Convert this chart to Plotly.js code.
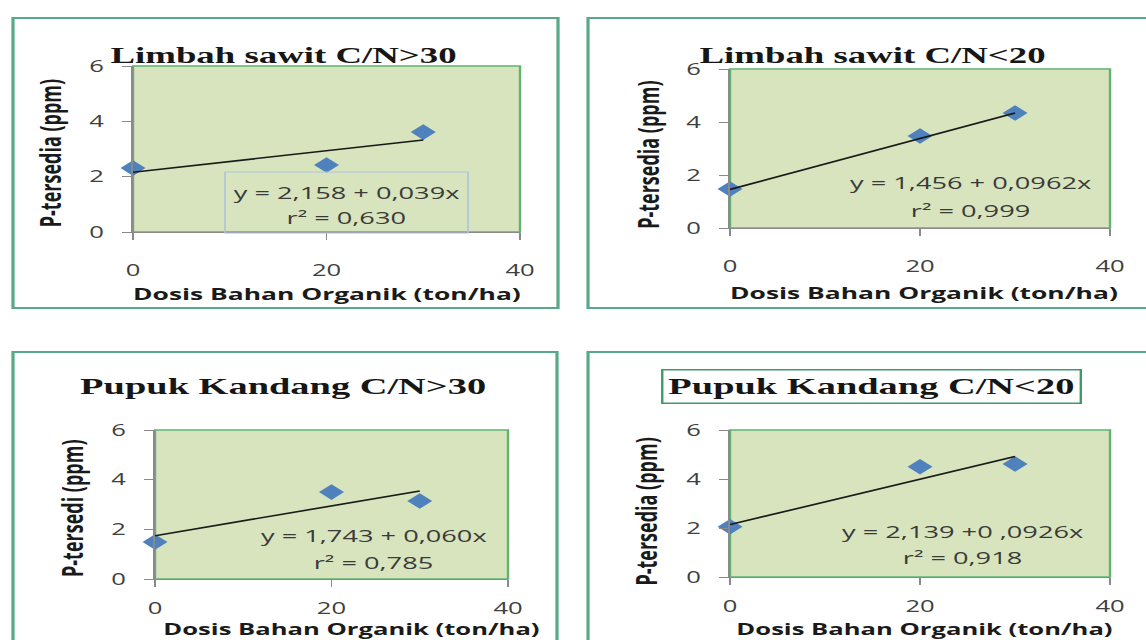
<!DOCTYPE html>
<html><head><meta charset="utf-8">
<script src="https://cdn.plot.ly/plotly-3.0.1.min.js"></script>
<style>
html,body{margin:0;padding:0;background:#fff;overflow:hidden}
#wrap{width:1146px;height:640px;overflow:hidden;position:relative}
#chart{width:716px;height:640px;transform:scaleX(1.6006);transform-origin:0 0}
</style></head><body>
<div id="wrap"><div id="chart"></div></div>
<script>
// ---- data ----
const doses = [0, 20, 30];                       // Dosis Bahan Organik (ton/ha)
const limbahGT30 = [2.31, 2.42, 3.61];           // Limbah sawit C/N>30
const limbahLT20 = [1.47, 3.47, 4.34];           // Limbah sawit C/N<20
const pupukGT30  = [1.49, 3.50, 3.14];           // Pupuk Kandang C/N>30
const pupukLT20  = [2.05, 4.50, 4.61];           // Pupuk Kandang C/N<20
const titles = ["Limbah sawit C/N>30", "Limbah sawit C/N<20", "Pupuk Kandang C/N>30", "Pupuk Kandang C/N<20"];
const yTitles = ["P-tersedia (ppm)", "P-tersedia (ppm)", "P-tersedi (ppm)", "P-tersedia (ppm)"];
const intercepts = [2.158, 1.456, 1.743, 2.139];
const slopes = [0.039, 0.0962, 0.060, 0.0926];
const eqLabels = ["y = 2,158 + 0,039x", "y = 1,456 + 0,0962x", "y = 1,743 + 0,060x", "y = 2,139 +0 ,0926x"];
const r2Labels = ["r² = 0,630", "r² = 0,999", "r² = 0,785", "r² = 0,918"];
const xTitle = "Dosis Bahan Organik (ton/ha)";
const series = [limbahGT30, limbahLT20, pupukGT30, pupukLT20];

// ---- layout helpers (reference pixel -> paper fraction) ----
const W = 1146, H = 640;
const px = v => v / W;
const py = v => 1 - v / H;

// panel geometry in reference pixels
const panels = [
  {plot:[133,520,232,66],  frame:[13,558,308,18],   title:[284,55],  ytit:[50,153],  xtit:[328,293], eq:[346,192,218], so:17, xf:16.5},
  {plot:[730,1110,228,69], frame:[588,1160,308,18], title:[872,55],  ytit:[648,155], xtit:[925,292], eq:[970,183,210], so:17, xf:16.5},
  {plot:[155,508,579,430], frame:[13,557,660,352],  title:[283,386], ytit:[72,508],  xtit:[351,629], eq:[374,535,562], so:8,  xf:16},
  {plot:[730,1110,577,430],frame:[588,1160,660,352],title:[872,386], ytit:[646,512], xtit:[925,629], eq:[962,531,557], so:8,  xf:16}
];

const sans = "Open Sans, Liberation Sans, sans-serif";
const serif = "Liberation Serif, Times New Roman, serif";
const tickFont = {family: sans, size: 16, color: "#404040"};

const traces = [];
const layout = {
  width: 716, height: 640, margin: {l:0, r:0, t:0, b:0},
  paper_bgcolor: "#ffffff", plot_bgcolor: "#d7e4bd",
  showlegend: false, shapes: [], annotations: []
};

panels.forEach((p, i) => {
  const n = i === 0 ? "" : String(i + 1);
  const xa = "x" + n, ya = "y" + n;
  layout["xaxis" + n] = {
    domain: [px(p.plot[0]), px(p.plot[1])], anchor: ya, range: [0, 40],
    tick0: 0, dtick: 20, ticks: "outside", ticklen: 7, tickcolor: "#8a8a8a",
    showline: true, linecolor: "#8a8a8a", linewidth: 1, showgrid: false, zeroline: false,
    tickfont: tickFont, ticklabelstandoff: p.so, fixedrange: true
  };
  layout["yaxis" + n] = {
    domain: [py(p.plot[2]), py(p.plot[3])], anchor: xa, range: [0, 6],
    tick0: 0, dtick: 2, ticks: "outside", ticklen: 6, tickcolor: "#8a8a8a",
    showline: true, linecolor: "#8a8a8a", linewidth: 1, showgrid: false, zeroline: false,
    tickfont: tickFont, ticklabelstandoff: 8, fixedrange: true
  };
  // data points
  traces.push({
    type: "scatter", mode: "markers", x: doses, y: series[i], xaxis: xa, yaxis: ya,
    cliponaxis: false, marker: {symbol: "diamond", size: 12, color: "#4f81bd"}
  });
  // linear trend line from the printed regression equation
  const xs = [doses[0], doses[doses.length - 1]];
  traces.push({
    type: "scatter", mode: "lines", x: xs, y: xs.map(v => intercepts[i] + slopes[i] * v),
    xaxis: xa, yaxis: ya, cliponaxis: false, line: {color: "#1a1a1a", width: 1.6}
  });
  // plot area green border
  layout.shapes.push({type: "rect", xref: xa + " domain", yref: ya + " domain", x0: 0, x1: 1, y0: 0, y1: 1,
    line: {color: "#5fb470", width: 1.5}, layer: "below"});
  // outer chart frame
  layout.shapes.push({type: "rect", xref: "paper", yref: "paper",
    x0: px(p.frame[0]), x1: px(p.frame[1]), y0: py(p.frame[2]), y1: py(p.frame[3]),
    line: {color: "#58a98a", width: 2}, layer: "below"});
  // title
  const tAnn = {xref: "paper", yref: "paper", x: px(p.title[0]), y: py(p.title[1]),
    xanchor: "center", yanchor: "middle", showarrow: false,
    text: "<b>" + titles[i] + "</b>",
    font: {family: serif, size: i < 2 ? 23 : 24, color: "#161616"}};
  if (i === 3) { tAnn.bordercolor = "#3f9a6a"; tAnn.borderwidth = 1.5; tAnn.borderpad = 3; tAnn.bgcolor = "#ffffff"; }
  layout.annotations.push(tAnn);
  // axis titles
  layout.annotations.push({xref: "paper", yref: "paper", x: px(p.ytit[0]), y: py(p.ytit[1]),
    xanchor: "center", yanchor: "middle", showarrow: false, textangle: -90,
    text: "<b>" + yTitles[i] + "</b>", font: {family: sans, size: 18, color: "#1a1a1a"}});
  layout.annotations.push({xref: "paper", yref: "paper", x: px(p.xtit[0]), y: py(p.xtit[1]),
    xanchor: "center", yanchor: "middle", showarrow: false,
    text: "<b>" + xTitle + "</b>", font: {family: sans, size: p.xf, color: "#1a1a1a"}});
  // regression equation labels
  layout.annotations.push({xref: "paper", yref: "paper", x: px(p.eq[0]), y: py(p.eq[1]),
    xanchor: "center", yanchor: "middle", showarrow: false,
    text: eqLabels[i], font: {family: sans, size: 17, color: "#3a3a3a"}});
  layout.annotations.push({xref: "paper", yref: "paper", x: px(p.eq[0]), y: py(p.eq[2]),
    xanchor: "center", yanchor: "middle", showarrow: false,
    text: r2Labels[i], font: {family: sans, size: 17, color: "#3a3a3a"}});
});

// label box of the first panel
layout.shapes.push({type: "rect", xref: "paper", yref: "paper",
  x0: px(225), x1: px(468), y0: py(233), y1: py(172),
  line: {color: "#adc3dc", width: 1}, layer: "above"});

Plotly.newPlot("chart", traces, layout, {staticPlot: true, displayModeBar: false});
</script>
</body></html>
